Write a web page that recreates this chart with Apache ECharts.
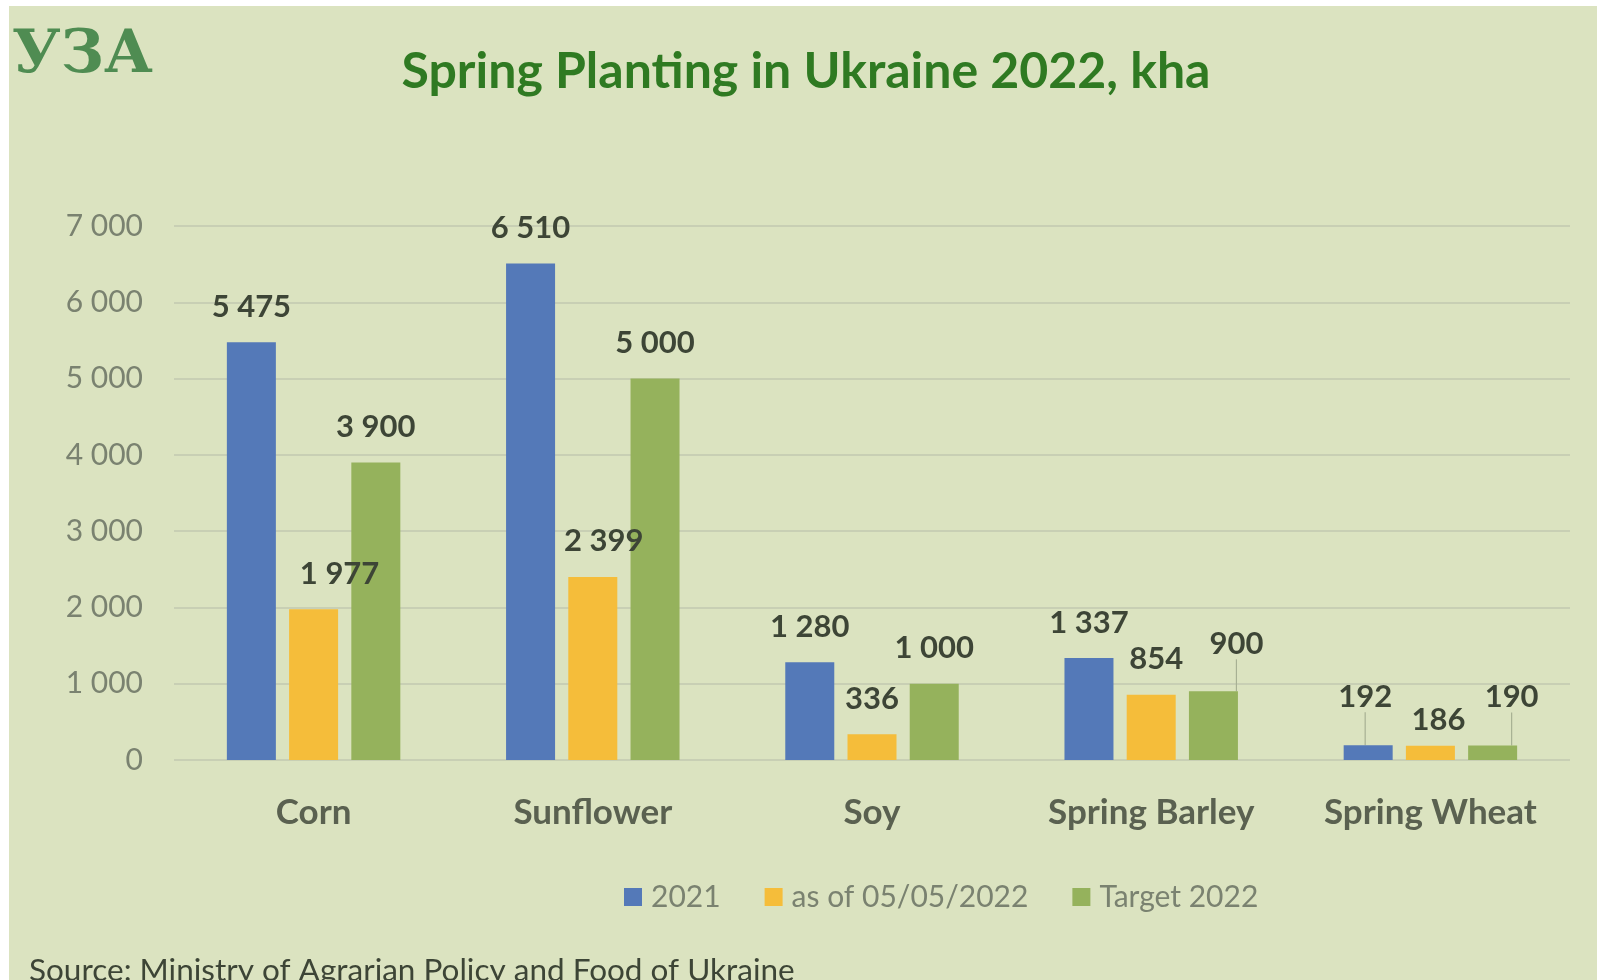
<!DOCTYPE html>
<html>
<head>
<meta charset="utf-8">
<title>Spring Planting in Ukraine 2022, kha</title>
<script src="https://cdn.jsdelivr.net/npm/echarts@6/dist/echarts.min.js"></script>
<style>
  html, body { margin: 0; padding: 0; background: #ffffff; }
  #chart { width: 1597px; height: 980px; }
</style>
</head>
<body>
<div id="chart"></div>
<script>
// Spring planting areas by crop, thousand hectares
const crops = ['Corn', 'Sunflower', 'Soy', 'Spring Barley', 'Spring Wheat'];
const seriesNames = ['2021', 'as of 05/05/2022', 'Target 2022'];
const area2021 = [5475, 6510, 1280, 1337, 192];
const areaAsOf = [1977, 2399, 336, 854, 186];
const areaTarget = [3900, 5000, 1000, 900, 190];
const yTicks = [0, 1000, 2000, 3000, 4000, 5000, 6000, 7000];

const colors = ['#5479b8', '#f5bd3a', '#95b25c'];
const seriesValues = [area2021, areaAsOf, areaTarget];

// Thousands separated by a space, e.g. 5 475
function fmt(v) {
  return String(v).replace(/\B(?=(\d{3})+(?!\d))/g, ' ');
}

// Labels nudged aside to avoid crowding: "series-category" -> [dx, dy, leader line]
const labelNudges = {
  '1-0': [26, 0, false],
  '1-1': [11, 0, false],
  '1-3': [5, 0, false],
  '2-3': [23, -12, true],
  '0-4': [-3, -13, true],
  '1-4': [8, 10, false],
  '2-4': [19, -13, true]
};

const chart = echarts.init(document.getElementById('chart'), null, { renderer: 'canvas' });

const series = seriesValues.map((vals, si) => ({
  name: seriesNames[si],
  type: 'bar',
  barWidth: 49,
  barGap: '27%',
  itemStyle: { color: colors[si] },
  data: vals.map((v, ci) => {
    const n = labelNudges[si + '-' + ci];
    const item = { value: v };
    if (n && n[2]) {
      item.labelLine = { show: true, lineStyle: { color: '#a7b093', width: 1.2 } };
    }
    return item;
  }),
  label: {
    show: true,
    position: 'top',
    distance: 20,
    formatter: p => fmt(p.value),
    fontFamily: 'Lato',
    fontWeight: 'bold',
    fontSize: 31,
    color: '#3d4536'
  },
  labelLayout: function (params) {
    const n = labelNudges[params.seriesIndex + '-' + params.dataIndex];
    if (!n) return {};
    return { dx: n[0], dy: n[1] };
  }
}));

const option = {
  animation: false,
  backgroundColor: '#ffffff',
  textStyle: { fontFamily: 'Lato' },
  graphic: [
    {
      type: 'rect',
      shape: { x: 9, y: 6, width: 1597 - 9, height: 980 - 6 },
      style: { fill: '#dbe3c0' },
      z: -10
    },
    {
      type: 'text',
      left: 12,
      top: 26,
      style: {
        text: 'УЗА',
        font: 'bold 60px "DejaVu Serif"',
        fill: '#4f8c52'
      },
      z: 5
    },
    {
      type: 'text',
      x: 806,
      y: 72,
      style: {
        text: 'Spring Planting in Ukraine 2022, kha',
        font: 'bold 50px Lato',
        fill: '#2f7a22',
        textAlign: 'center',
        textVerticalAlign: 'middle'
      },
      z: 5
    },
    {
      type: 'text',
      x: 29,
      y: 971,
      style: {
        text: 'Source: Ministry of Agrarian Policy and Food of Ukraine',
        font: '31.5px Lato',
        fill: '#3d4536',
        textAlign: 'left',
        textVerticalAlign: 'middle'
      },
      z: 5
    }
  ],
  legend: {
    data: seriesNames,
    left: 619,
    top: 877,
    itemWidth: 18,
    itemHeight: 18,
    itemGap: 44,
    icon: 'rect',
    textStyle: { fontFamily: 'Lato', fontSize: 30, color: '#7a8270', padding: [0, 0, 0, 4] }
  },
  grid: { left: 174, right: 27, top: 226, bottom: 220 },
  xAxis: {
    type: 'category',
    data: crops,
    axisLine: { show: false },
    axisTick: { show: false },
    axisLabel: {
      margin: 35,
      fontFamily: 'Lato',
      fontWeight: 'bold',
      fontSize: 35,
      color: '#5a6150'
    }
  },
  yAxis: {
    type: 'value',
    min: yTicks[0],
    max: yTicks[yTicks.length - 1],
    interval: 1000,
    axisLine: { show: false },
    axisTick: { show: false },
    splitLine: { lineStyle: { color: '#c8cfb4', width: 2 } },
    axisLabel: {
      margin: 31,
      fontFamily: 'Lato',
      fontSize: 30,
      color: '#7a8270',
      formatter: v => fmt(v)
    }
  },
  series: series
};

chart.setOption(option);
</script>
</body>
</html>
